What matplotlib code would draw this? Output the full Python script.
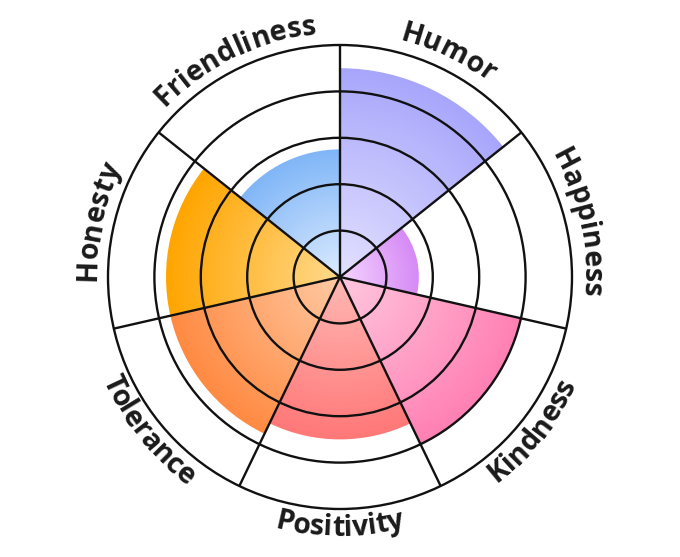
import numpy as np
import matplotlib
matplotlib.use('Agg')
import matplotlib.pyplot as plt
from matplotlib.patches import Wedge, Circle
from matplotlib.font_manager import FontProperties
from matplotlib.colors import to_rgb

#%% Données
categories = ['Humor', 'Happiness', 'Kindness', 'Positivity',
              'Tolerance', 'Honesty', 'Friendliness']
values = [4.5, 1.7, 4.0, 3.5, 3.75, 3.75, 2.75]
inner_colors = ['#e3e1ff', '#f5d5ff', '#ffc8de', '#ffb8b4',
                '#ffcaa4', '#ffda8e', '#dcebff']
outer_colors = ['#a8a6fb', '#d68af5', '#ff80b4', '#ff7878',
                '#ff8a42', '#ffa500', '#80b6f7']
ring_max = 5

#%% Figure
PX = 46.4  # pixels par unité
fig = plt.figure(figsize=(6.8, 5.57), dpi=100)
ax = fig.add_axes([0, 0, 1, 1])
ax.axis('off')

step = 360 / len(categories)

# secteurs avec dégradé radial
n = 500
xs = np.linspace(-ring_max, ring_max, n)
X, Y = np.meshgrid(xs, xs)
R = np.hypot(X, Y)
for i, (val, c_in, c_out) in enumerate(zip(values, inner_colors, outer_colors)):
    t2 = 90 - i * step
    t1 = t2 - step
    w = Wedge((0, 0), val, t1, t2, facecolor='none', edgecolor='none')
    ax.add_patch(w)
    t = np.clip(R / val, 0, 1)[..., None]
    a = np.array(to_rgb(c_in))
    b = np.array(to_rgb(c_out))
    img = a + (b - a) * t
    im = ax.imshow(img, extent=(-ring_max, ring_max, -ring_max, ring_max),
                   origin='lower', interpolation='bilinear', zorder=1)
    im.set_clip_path(w)

# cercles et rayons
for k in range(1, ring_max + 1):
    ax.add_patch(Circle((0, 0), k, fill=False, lw=1.7, ec='#111111', zorder=3))
for i in range(len(categories)):
    ang = np.radians(90 - i * step)
    ax.plot([0, ring_max * np.cos(ang)], [0, ring_max * np.sin(ang)],
            color='#111111', lw=1.7, zorder=3, solid_capstyle='butt')

#%% Etiquettes courbes
fp = FontProperties(family='Open Sans', weight='bold', size=20.5)
renderer = fig.canvas.get_renderer()


def tw(s):
    if not s:
        return 0.0
    return renderer.get_text_width_height_descent(s, fp, ismath=False)[0]


def texte_courbe(label, ang_c):
    upper = np.sin(np.radians(ang_c)) > 0
    r_px = 244 if upper else 259
    r = r_px / PX
    total = tw(label)
    for k, ch in enumerate(label):
        mid = (tw(label[:k]) + tw(label[:k + 1])) / 2 - total / 2
        d = np.degrees(mid / r_px)
        if upper:
            a = ang_c - d
            rot = a - 90
        else:
            a = ang_c + d
            rot = a + 90
        ar = np.radians(a)
        ax.text(r * np.cos(ar), r * np.sin(ar), ch, rotation=rot,
                ha='center', va='baseline', rotation_mode='anchor',
                fontproperties=fp, color='#1a1a1a', zorder=4)


for i, cat in enumerate(categories):
    texte_courbe(cat, 90 - (i + 0.5) * step)

ax.set_xlim(-340 / PX, 340 / PX)
ax.set_ylim(-280 / PX, 277 / PX)
ax.set_aspect('auto')

fig.savefig('out.png', dpi=100)
